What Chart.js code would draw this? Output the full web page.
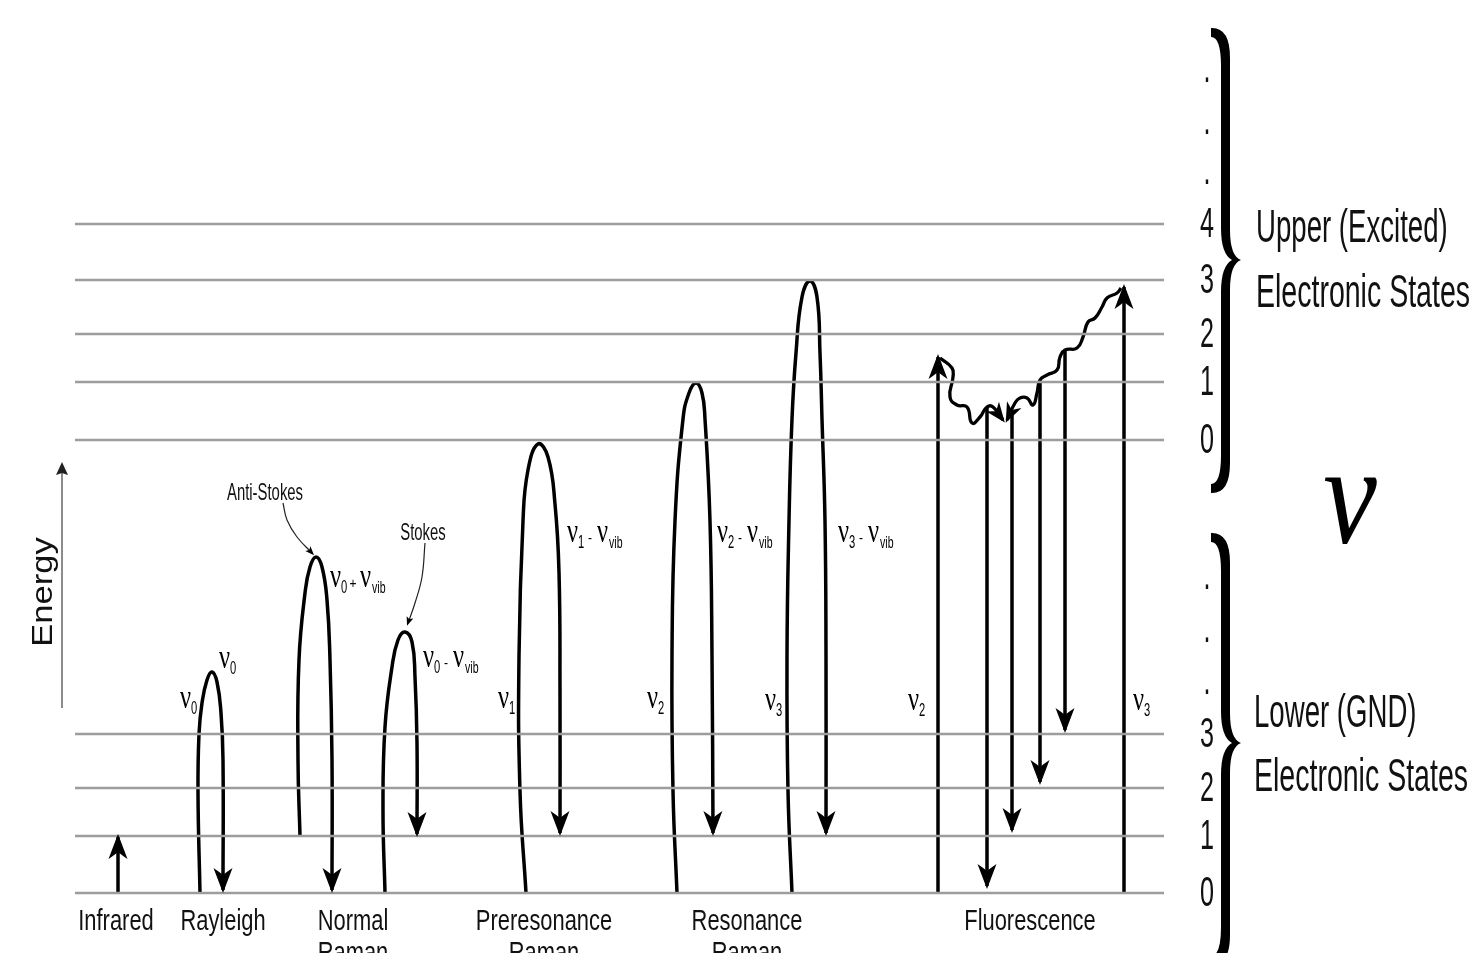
<!DOCTYPE html>
<html><head><meta charset="utf-8">
<script src="https://cdn.jsdelivr.net/npm/chart.js@4.4.1/dist/chart.umd.min.js"></script>
<style>html,body{margin:0;padding:0;background:#fff;overflow:hidden}canvas{display:block}</style>
</head><body>
<canvas id="c" width="1484" height="953"></canvas>
<script>
// ---------------- DATA (energy values) ----------------
const lowerLevels = [0, 57, 105, 159];
const upperLevels = [453, 511, 559, 613, 669];
const lowerLevelLabels = ['0', '1', '2', '3'];
const upperLevelLabels = ['0', '1', '2', '3', '4'];
const levelSpan = [75, 1164];
const upperDots = [711, 761, 813];
const lowerDots = [201, 253, 306];
const processNames = ['Infrared', 'Rayleigh', 'Normal\nRaman', 'Preresonance\nRaman', 'Resonance\nRaman', 'Fluorescence'];
const processX = [116, 223, 353, 544, 747, 1030];

const infraredArrow = [[118, 0], [118, 56]];
const rayleighArc = [[200, 0], [198, 100], [199, 159], [202, 190], [207, 213], [212, 221], [217, 211], [221, 180], [223, 133], [223, 3]];
const antiStokesArc = [[300, 57], [298, 133], [299, 233], [305, 300], [310, 326], [316, 336], [322, 326], [327, 293], [330, 233], [332, 133], [332, 3]];
const stokesArc = [[385, 0], [383, 83], [385, 166], [392, 226], [398, 253], [405, 261], [412, 251], [415, 216], [417, 150], [417, 59]];
const preresonanceArc = [[526, 0], [520, 102], [519, 237], [523, 372], [528, 423], [538, 449], [548, 436], [555, 389], [559, 321], [560, 203], [560, 60]];
const resonanceArc2 = [[677, 0], [673, 102], [672, 237], [675, 372], [683, 474], [689, 500], [696, 510], [702, 500], [705, 474], [710, 372], [712, 237], [713, 60]];
const resonanceArc3 = [[792, 0], [788, 102], [787, 237], [789, 372], [792, 474], [796, 540], [802, 596], [810, 612], [817, 596], [820, 540], [822, 474], [825, 372], [826, 237], [826, 60]];
const fluorUp2 = [[938, 0], [938, 536]];
const fluorUp3 = [[1124, 0], [1124, 606]];
const fluorDownA = [[987, 486], [987, 7]];
const fluorDownB = [[1012, 483], [1012, 63]];
const fluorDownC = [[1040, 513], [1040, 111]];
const fluorDownD = [[1065, 543], [1065, 163]];
const relaxWave2 = [[940, 535], [952, 525], [953, 516], [950, 496], [957, 488], [967, 486], [972, 470], [980, 476], [987, 486], [993, 486], [1003, 473]];
const relaxWave3 = [[1121, 605], [1117, 600], [1107, 595], [1102, 586], [1095, 575], [1088, 571], [1083, 556], [1077, 545], [1065, 543], [1060, 536], [1057, 523], [1047, 518], [1040, 513], [1037, 500], [1033, 488], [1027, 495], [1020, 495], [1015, 490], [1007, 473]];
const antiStokesPointer = [[283, 390], [287, 373], [297, 356], [312, 340]];
const stokesPointer = [[425, 350], [422, 316], [415, 290], [408, 270]];
const energyAxis = [[62, 185], [62, 428]];

// ---------------- BUILD DATASETS ----------------
const pts = a => a.map(p => ({x: p[0], y: p[1]}));
const datasets = [];
lowerLevels.concat(upperLevels).forEach(e => {
  datasets.push({data: [{x: levelSpan[0], y: e}, {x: levelSpan[1], y: e}], borderColor: '#9d9d9d', borderWidth: 2.5});
});
const BIG = [25, 9.5, 7];
const thick = (arr, tension, arrow, w) => ({data: pts(arr), borderColor: '#000', borderWidth: w || 3.5, tension: tension, arrow: arrow});
datasets.push(thick(infraredArrow, 0, BIG));
[rayleighArc, antiStokesArc, stokesArc, preresonanceArc, resonanceArc2, resonanceArc3].forEach(a => datasets.push(thick(a, 0.45, BIG)));
[fluorUp2, fluorUp3, fluorDownA, fluorDownB, fluorDownC, fluorDownD].forEach(a => datasets.push(thick(a, 0, BIG)));
datasets.push(thick(relaxWave2, 0.5, [20, 8, 6], 3.3));
datasets.push(thick(relaxWave3, 0.5, [20, 8, 6], 3.3));
datasets.push({data: pts(antiStokesPointer), borderColor: '#222', borderWidth: 1.2, tension: 0.4, arrow: [9, 3.5, 2]});
datasets.push({data: pts(stokesPointer), borderColor: '#222', borderWidth: 1.2, tension: 0.4, arrow: [9, 3.5, 2]});
datasets.push({data: pts(energyAxis), borderColor: '#666', borderWidth: 1.5, arrow: [13, 6, 2], arrowColor: '#222'});
datasets.forEach(d => { d.showLine = true; d.pointRadius = 0; d.fill = false; if (d.tension === undefined) d.tension = 0; });

// ---------------- DRAWING HELPERS ----------------
const SANS = '"Liberation Sans", Arial, sans-serif';
const SERIF = '"Liberation Serif", "Times New Roman", serif';
function txt(ctx, s, x, y, font, sx, align, color) {
  ctx.save();
  ctx.font = font; ctx.fillStyle = color || '#000';
  ctx.textAlign = align || 'left'; ctx.textBaseline = 'alphabetic';
  ctx.translate(x, y); ctx.scale(sx, 1); ctx.fillText(s, 0, 0);
  ctx.restore();
}
function nu(ctx, x, yb) { txt(ctx, 'ν', x, yb, '34px ' + SERIF, 0.72, 'left'); }
function sub(ctx, s, x, yb) {
  if (s === 'vib') txt(ctx, s, x, yb + 6, '16px ' + SANS, 0.66, 'left');
  else txt(ctx, s, x, yb + 6, '18px ' + SANS, 0.62, 'left');
}
function nuLabel(ctx, x, yb, s1, op, s2) {
  nu(ctx, x, yb); sub(ctx, s1, x + 11, yb);
  if (op) {
    txt(ctx, op === '+' ? '+' : '-', x + 23, yb + 1, '15px ' + SANS, 0.8, 'center');
    nu(ctx, x + 30, yb); sub(ctx, s2, x + 42, yb);
  }
}
function head(ctx, x, y, ang, len, half, notch, color) {
  ctx.save(); ctx.translate(x, y); ctx.rotate(ang);
  ctx.beginPath();
  ctx.moveTo(3, 0);
  ctx.lineTo(3 - len, -half);
  ctx.quadraticCurveTo(3 - len + notch * 0.5, -half * 0.45, 3 - len + notch, 0);
  ctx.quadraticCurveTo(3 - len + notch * 0.5, half * 0.45, 3 - len, half);
  ctx.closePath();
  ctx.fillStyle = color; ctx.fill();
  ctx.restore();
}
function brace(ctx, xl, xs, w, xp, T, M, B) {
  ctx.save(); ctx.fillStyle = '#000'; ctx.beginPath();
  ctx.moveTo(xl, T);
  ctx.quadraticCurveTo(xs + w, T - 1, xs + w, T + 30);
  ctx.lineTo(xs + w, M - 30);
  ctx.quadraticCurveTo(xs + w, M - 4, xp, M);
  ctx.quadraticCurveTo(xs + w, M + 4, xs + w, M + 30);
  ctx.lineTo(xs + w, B - 30);
  ctx.quadraticCurveTo(xs + w, B + 1, xl, B);
  ctx.lineTo(xl, B - 9);
  ctx.quadraticCurveTo(xs, B - 9, xs, B - 38);
  ctx.lineTo(xs, M + 32);
  ctx.quadraticCurveTo(xs, M + 6, xp - 9, M);
  ctx.quadraticCurveTo(xs, M - 6, xs, M - 32);
  ctx.lineTo(xs, T + 38);
  ctx.quadraticCurveTo(xs, T + 9, xl, T + 9);
  ctx.closePath(); ctx.fill(); ctx.restore();
}

const diagramPlugin = {
  id: 'diagram',
  afterDatasetsDraw(chart) {
    const ctx = chart.ctx;
    const X = v => chart.scales.x.getPixelForValue(v);
    const Y = v => chart.scales.y.getPixelForValue(v);
    // arrowheads
    chart.data.datasets.forEach(ds => {
      if (!ds.arrow) return;
      const n = ds.data.length, a = ds.data[n - 2], b = ds.data[n - 1];
      const ang = Math.atan2(Y(b.y) - Y(a.y), X(b.x) - X(a.x));
      head(ctx, X(b.x), Y(b.y), ang, ds.arrow[0], ds.arrow[1], ds.arrow[2], ds.arrowColor || '#000');
    });
    // process names
    processNames.forEach((name, i) => {
      name.split('\n').forEach((line, j) => {
        txt(ctx, line, X(processX[i]), Y(-37 - 32 * j), '30px ' + SANS, 0.73, 'center', '#111');
      });
    });
    // Energy label
    ctx.save(); ctx.translate(X(52), Y(893 - 592)); ctx.rotate(-Math.PI / 2);
    ctx.scale(1.15, 1); ctx.font = '30px ' + SANS; ctx.fillStyle = '#111'; ctx.textAlign = 'center';
    ctx.fillText('Energy', 0, 0); ctx.restore();
    // annotation words
    txt(ctx, 'Anti-Stokes', X(265), Y(393), '24px ' + SANS, 0.62, 'center', '#111');
    txt(ctx, 'Stokes', X(423), Y(353), '24px ' + SANS, 0.62, 'center', '#111');
    // frequency labels
    nuLabel(ctx, X(180), Y(185), '0');
    nuLabel(ctx, X(219), Y(225), '0');
    nuLabel(ctx, X(330), Y(306), '0', '+', 'vib');
    nuLabel(ctx, X(423), Y(226), '0', '-', 'vib');
    nuLabel(ctx, X(498), Y(185), '1');
    nuLabel(ctx, X(567), Y(351), '1', '-', 'vib');
    nuLabel(ctx, X(647), Y(185), '2');
    nuLabel(ctx, X(717), Y(351), '2', '-', 'vib');
    nuLabel(ctx, X(765), Y(183), '3');
    nuLabel(ctx, X(838), Y(351), '3', '-', 'vib');
    nuLabel(ctx, X(908), Y(183), '2');
    nuLabel(ctx, X(1133), Y(183), '3');
    // level numbers
    const numFont = '42px ' + SANS;
    upperLevels.forEach((e, i) => txt(ctx, upperLevelLabels[i], X(1207), Y(e) - 2 + 15, numFont, 0.6, 'center', '#111'));
    lowerLevels.forEach((e, i) => txt(ctx, lowerLevelLabels[i], X(1207), Y(e) - 2 + 15, numFont, 0.6, 'center', '#111'));
    upperDots.concat(lowerDots).forEach(e => txt(ctx, '.', X(1207), Y(e) + 2, numFont, 0.6, 'center', '#111'));
    // braces
    brace(ctx, X(1211), X(1221), 9, X(1241), Y(865), Y(633), Y(400));
    brace(ctx, X(1211), X(1221), 9, X(1241), Y(360), Y(150), Y(-72));
    // state group labels
    const gFont = '46px ' + SANS;
    txt(ctx, 'Upper (Excited)', X(1256), Y(893 - 242), gFont, 0.6, 'left', '#111');
    txt(ctx, 'Electronic States', X(1256), Y(893 - 307), gFont, 0.62, 'left', '#111');
    txt(ctx, 'Lower (GND)', X(1254), Y(893 - 727), gFont, 0.6, 'left', '#111');
    txt(ctx, 'Electronic States', X(1254), Y(893 - 791), gFont, 0.62, 'left', '#111');
    // big nu
    txt(ctx, 'ν', X(1350), Y(893 - 543), 'italic 142px ' + SERIF, 0.85, 'center', '#000');
  }
};

new Chart(document.getElementById('c'), {
  type: 'scatter',
  data: {datasets: datasets},
  options: {
    responsive: false, animation: false, devicePixelRatio: 1,
    layout: {padding: 0},
    plugins: {legend: {display: false}, tooltip: {enabled: false}},
    events: [],
    scales: {
      x: {type: 'linear', min: 0, max: 1484, display: false},
      y: {type: 'linear', min: -60, max: 893, display: false}
    }
  },
  plugins: [diagramPlugin]
});
</script>
</body></html>
